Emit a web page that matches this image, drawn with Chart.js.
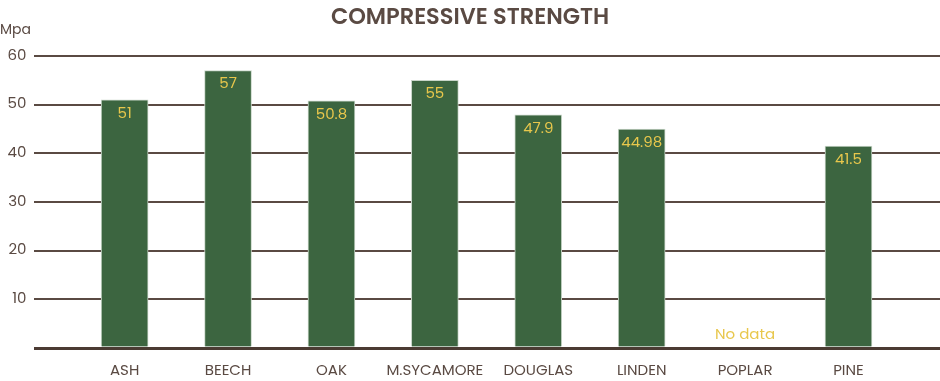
<!DOCTYPE html>
<html>
<head>
<meta charset="utf-8">
<script src="https://cdn.jsdelivr.net/npm/chart.js@4/dist/chart.umd.min.js"></script>
<style>
  html, body { margin: 0; padding: 0; background: #ffffff; }
  #wrap { width: 940px; height: 381px; }
</style>
</head>
<body>
<div id="wrap"><canvas id="strengthChart" width="940" height="381"></canvas></div>
<script>
// Wood species and compressive strength (Mpa)
const species = ['ASH', 'BEECH', 'OAK', 'M.SYCAMORE', 'DOUGLAS', 'LINDEN', 'POPLAR', 'PINE'];
const strength = [51, 57, 50.8, 55, 47.9, 44.98, null, 41.5];
const valueLabels = ['51', '57', '50.8', '55', '47.9', '44.98', 'No data', '41.5'];
const yTicks = [0, 10, 20, 30, 40, 50, 60];

const brown = '#5a4a43';
const green = '#3c6540';
const yellow = '#e8c74c';
const fontFamily = "Poppins, Inter, 'Open Sans', sans-serif";

// Draws value labels inside the bars, plus "No data" for missing values
const valueLabelPlugin = {
  id: 'valueLabels',
  afterDatasetsDraw(chart) {
    const { ctx } = chart;
    const xScale = chart.scales.x;
    const yScale = chart.scales.y;
    const meta = chart.getDatasetMeta(0);
    ctx.save();
    ctx.textAlign = 'center';
    ctx.textBaseline = 'middle';
    ctx.fillStyle = yellow;
    ctx.font = '15px ' + fontFamily;
    strength.forEach((v, i) => {
      if (v === null) {
        ctx.fillText(valueLabels[i], xScale.getPixelForValue(i), yScale.getPixelForValue(0) - 13);
      } else {
        const bar = meta.data[i];
        ctx.fillText(valueLabels[i], bar.x, bar.y + 14);
      }
    });
    // unit label above the y axis
    ctx.fillStyle = brown;
    ctx.textAlign = 'left';
    ctx.font = '14px ' + fontFamily;
    ctx.fillText('Mpa', 0, 30);
    ctx.restore();
  }
};

const noPadding = (scale) => {
  scale.paddingLeft = 0;
  scale.paddingRight = 0;
  scale.paddingTop = 0;
  scale.paddingBottom = 0;
};

new Chart(document.getElementById('strengthChart'), {
  type: 'bar',
  data: {
    datasets: [{
      data: strength.map((v, i) => ({ x: i, y: v })),
      backgroundColor: green,
      borderColor: '#c9d6c9',
      borderWidth: 1,
      barThickness: 47,
    }],
  },
  options: {
    responsive: false,
    animation: false,
    layout: { padding: 0 },
    plugins: {
      legend: { display: false },
      tooltip: { enabled: false },
      title: {
        display: true,
        text: 'COMPRESSIVE STRENGTH',
        color: brown,
        font: { family: fontFamily, size: 22.5, weight: '600' },
        padding: { top: 5, bottom: 24 },
      },
    },
    scales: {
      x: {
        type: 'linear',
        offset: false,
        min: -0.877,
        max: 7.885,
        afterFit: (scale) => {
          noPadding(scale);
          scale.height = 33;
        },
        grid: { display: false, drawTicks: false },
        border: { display: false },
        ticks: {
          stepSize: 1,
          autoSkip: false,
          maxRotation: 0,
          padding: 14,
          color: brown,
          font: { family: fontFamily, size: 15 },
          callback: (v) => {
            const r = Math.round(v);
            return Math.abs(v - r) < 1e-6 && species[r] ? species[r] : '';
          },
        },
      },
      y: {
        min: 0,
        max: 60,
        afterBuildTicks: (scale) => { scale.ticks = yTicks.map((v) => ({ value: v })); },
        afterFit: noPadding,
        grid: {
          color: (c) => (c.tick && c.tick.value === 0 ? '#4b3b33' : brown),
          lineWidth: (c) => (c.tick && c.tick.value === 0 ? 3 : 2),
          drawTicks: false,
        },
        border: { display: false },
        ticks: {
          padding: 7.5,
          color: brown,
          font: { family: fontFamily, size: 15 },
          callback: (v) => (v === 0 ? '' : v),
        },
      },
    },
  },
  plugins: [valueLabelPlugin],
});
</script>
</body>
</html>
